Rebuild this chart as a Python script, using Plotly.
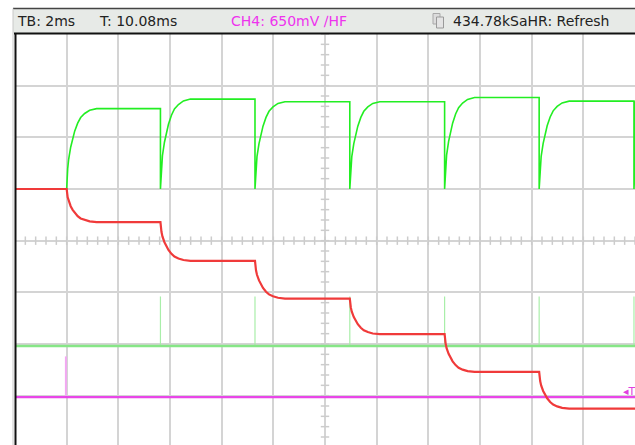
import plotly.graph_objects as go

# ---------------- data (time in ms, amplitude in screen divisions) ----------------
edge_times_ms = [2.0, 5.63, 9.29, 12.96, 16.63, 20.29, 23.96]

# CH1 (green): baseline and the plateau reached after each edge
green_baseline = 1.0
green_plateaus = [2.555, 2.74, 2.69, 2.69, 2.77, 2.70, 2.70]

# CH2 (red): staircase levels (one more level than the number of steps)
red_levels = [1.0, 0.36, -0.39, -1.12, -1.81, -2.54, -3.25]

# normalised step response (offset in ms, fraction of step)
step_offset_ms = [0, 0.039, 0.077, 0.155, 0.232, 0.31, 0.426, 0.542, 0.697, 0.89, 1.16]
step_fraction = [0, 0.25, 0.37, 0.52, 0.63, 0.72, 0.82, 0.89, 0.94, 0.98, 1.0]

# CH3 (light green): flat line with narrow spikes at the falling edges
ch3_level = -2.04
ch3_spike_top = -1.08
ch3_spike_times = [5.63, 9.29, 12.96, 16.63, 20.29, 23.96]

# CH4 (magenta): flat line with one trigger spike
ch4_level = -3.03
ch4_spike_time = 1.97
ch4_spike_top = -2.24

# channel reference markers on the left edge
marker_levels = [1.30, 1.02, -2.03, -3.03]
marker_colors = ["#f03a3a", "#22dd22", "#7fe07f", "#e040e0"]

header_left = ["TB: 2ms", "T: 10.08ms"]
header_ch4 = "CH4: 650mV \u2215HF"
header_right = "434.78kSaHR: Refresh"

T_MAX = 24.0
Y_TOP, Y_BOT = 4.0, 4.0 - 411 / (620 / 12)

# ---------------- build traces ----------------
def green_wave():
    xs, ys = [0.0], [green_baseline]
    level = green_baseline
    for k, t0 in enumerate(edge_times_ms):
        xs += [t0, t0]
        ys += [level, green_baseline]
        target = green_plateaus[k]
        for off, fr in zip(step_offset_ms, step_fraction):
            t = t0 + off
            if t > T_MAX:
                break
            xs.append(t)
            ys.append(green_baseline + fr * (target - green_baseline))
        level = target
    xs.append(T_MAX)
    ys.append(level)
    return xs, ys


def red_wave():
    xs, ys = [0.0], [red_levels[0]]
    for k, t0 in enumerate(edge_times_ms[: len(red_levels) - 1]):
        a, b = red_levels[k], red_levels[k + 1]
        for off, fr in zip(step_offset_ms, step_fraction):
            xs.append(t0 + off)
            ys.append(a + fr * (b - a))
    xs.append(T_MAX)
    ys.append(red_levels[-1])
    return xs, ys


fig = go.Figure()

# centre graticule ticks
xt = [i * 0.4 for i in range(0, 61)]
fig.add_trace(go.Scatter(x=xt, y=[0] * len(xt), mode="markers", hoverinfo="skip",
                         marker=dict(symbol="line-ns", size=6, line=dict(color="#cccccc", width=1.5))))
yt = [-4 + i * 0.2 for i in range(0, 41)]
fig.add_trace(go.Scatter(x=[12] * len(yt), y=yt, mode="markers", hoverinfo="skip",
                         marker=dict(symbol="line-ew", size=6, line=dict(color="#cccccc", width=1.5))))

# CH3
sx, sy = [], []
for t in ch3_spike_times:
    sx += [t, t, None]
    sy += [ch3_level, ch3_spike_top, None]
fig.add_trace(go.Scatter(x=sx, y=sy, mode="lines", line=dict(color="#a9eea9", width=1.2), hoverinfo="skip"))
fig.add_trace(go.Scatter(x=[0, T_MAX], y=[ch3_level, ch3_level], mode="lines",
                         line=dict(color="#86e686", width=2.5), hoverinfo="skip"))

# CH4
fig.add_trace(go.Scatter(x=[ch4_spike_time, ch4_spike_time], y=[ch4_level, ch4_spike_top], mode="lines",
                         line=dict(color="#f2a8f2", width=2), hoverinfo="skip"))
fig.add_trace(go.Scatter(x=[0, T_MAX], y=[ch4_level, ch4_level], mode="lines",
                         line=dict(color="#e846e8", width=2.2), hoverinfo="skip"))

# CH1 green
gx, gy = green_wave()
fig.add_trace(go.Scatter(x=gx, y=gy, mode="lines", line=dict(color="#22ee22", width=1.6), hoverinfo="skip"))

# CH2 red
rx, ry = red_wave()
fig.add_trace(go.Scatter(x=rx, y=ry, mode="lines", line=dict(color="#f03a3a", width=2.2), hoverinfo="skip"))

# left-edge channel markers
fig.add_trace(go.Scatter(x=[-0.08] * len(marker_levels), y=marker_levels, mode="markers", cliponaxis=False,
                         marker=dict(symbol="triangle-right", size=5, color=marker_colors), hoverinfo="skip"))
# trigger position marker and centre marker under the header
fig.add_trace(go.Scatter(x=[ch4_spike_time - 0.03], y=[Y_TOP + 0.055], mode="markers", cliponaxis=False,
                         marker=dict(symbol="triangle-down", size=6, color="#e040e0"), hoverinfo="skip"))
fig.add_trace(go.Scatter(x=[12.0], y=[Y_TOP + 0.06], mode="markers", cliponaxis=False,
                         marker=dict(symbol="triangle-down-open", size=8, color="#999999",
                                     line=dict(width=1)), hoverinfo="skip"))

# ---------------- layout / decorations ----------------
W, H = 635, 445
L, T = 15, 34
PW, PH = W - L, H - T


def px(xp):  # picture x pixel -> paper
    return (xp - L) / PW


def py(yp):  # picture y pixel -> paper
    return (H - yp) / PH


shapes = [
    # header background and its top rule
    dict(type="rect", xref="paper", yref="paper", x0=px(13), x1=px(640), y0=py(33), y1=py(8.5),
         fillcolor="#e7eae7", line=dict(width=0), layer="below"),
    dict(type="line", xref="paper", yref="paper", x0=px(13), x1=px(640), y0=py(8.5), y1=py(8.5),
         line=dict(color="#444444", width=1.3)),
    # light frame line left of plot
    dict(type="line", xref="paper", yref="paper", x0=px(13), x1=px(13), y0=py(8.5), y1=py(450),
         line=dict(color="#c8c8c8", width=1)),
    # plot top and left border
    dict(type="line", xref="paper", yref="paper", x0=px(14), x1=px(640), y0=py(33.5), y1=py(33.5),
         line=dict(color="#111111", width=1.8)),
    dict(type="line", xref="paper", yref="paper", x0=px(15.5), x1=px(15.5), y0=py(33), y1=py(450),
         line=dict(color="#111111", width=2)),
    # copy icon
    dict(type="rect", xref="paper", yref="paper", x0=px(433), x1=px(440), y0=py(24), y1=py(13.5),
         fillcolor="#dcdcdc", line=dict(color="#a8a8a8", width=1)),
    dict(type="rect", xref="paper", yref="paper", x0=px(436.5), x1=px(443.5), y0=py(28), y1=py(17),
         fillcolor="#e4e4e4", line=dict(color="#9a9a9a", width=1)),
]

hdr_font = dict(family="DejaVu Sans", size=14, color="#222222")
annotations = [
    dict(xref="paper", yref="paper", x=px(15), y=py(20.5), text=header_left[0], showarrow=False,
         xanchor="left", yanchor="middle", font=hdr_font),
    dict(xref="paper", yref="paper", x=px(97), y=py(20.5), text=header_left[1], showarrow=False,
         xanchor="left", yanchor="middle", font=hdr_font),
    dict(xref="paper", yref="paper", x=px(229), y=py(20.5), text=header_ch4, showarrow=False,
         xanchor="left", yanchor="middle", font=dict(family="DejaVu Sans", size=14, color="#ee33ee")),
    dict(xref="paper", yref="paper", x=px(451), y=py(20.5), text=header_right, showarrow=False,
         xanchor="left", yanchor="middle", font=hdr_font),
    dict(xref="paper", yref="paper", x=px(621), y=py(391), text="\u25c2T", showarrow=False,
         xanchor="left", yanchor="middle", font=dict(family="DejaVu Sans", size=11, color="#e040e0")),
]

fig.update_layout(
    width=W, height=H,
    margin=dict(l=L, r=0, t=T, b=0, pad=0),
    paper_bgcolor="white", plot_bgcolor="white",
    showlegend=False,
    shapes=shapes, annotations=annotations,
    xaxis=dict(range=[0, T_MAX], tick0=0, dtick=2, showgrid=True, gridcolor="#d4d4d4", gridwidth=1.6,
               zeroline=False, showticklabels=False, ticks="", showline=False, fixedrange=True),
    yaxis=dict(range=[Y_BOT, Y_TOP], tick0=0, dtick=1, showgrid=True, gridcolor="#d4d4d4", gridwidth=1.6,
               zeroline=False, showticklabels=False, ticks="", showline=False, fixedrange=True),
)

# remove the default 8px body margin so the figure sits exactly in the 635x445 window
fig.write_html(
    "out.html",
    config=dict(displayModeBar=False),
    post_script="document.body.style.margin='0';document.body.style.overflow='hidden';",
)
